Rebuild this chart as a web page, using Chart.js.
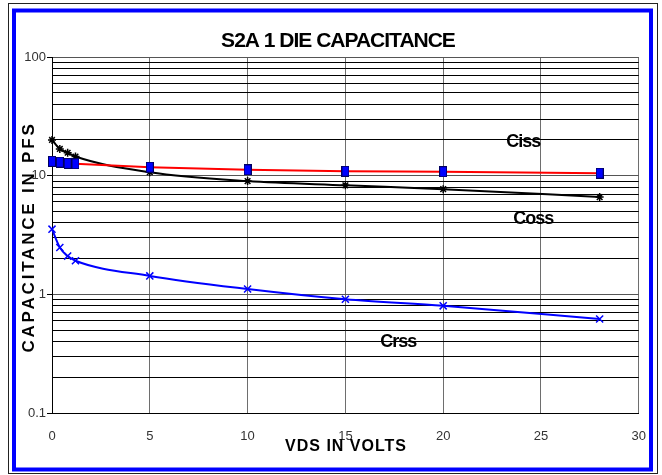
<!DOCTYPE html>
<html>
<head>
    <meta charset="UTF-8">
    <title>S2A 1 DIE CAPACITANCE</title>
    <script src="https://cdn.jsdelivr.net/npm/chart.js"></script>
    <style>
        body { margin: 0; background: #fff; }
        #wrap { width: 662px; height: 475px; }
    </style>
</head>
<body>
    <div id="wrap"><canvas id="myChart" width="662" height="475"></canvas></div>

    <script>
        // drain-source voltage (V)
        const vds = [0, 0.4, 0.8, 1.2, 5, 10, 15, 20, 28];
        // capacitances (pF)
        const ciss = [13.2, 13.0, 12.7, 12.6, 11.8, 11.2, 10.9, 10.8, 10.5];
        const coss = [20.0, 16.8, 15.6, 14.5, 10.7, 9.0, 8.3, 7.7, 6.6];
        const crss = [3.54, 2.48, 2.10, 1.92, 1.43, 1.11, 0.91, 0.80, 0.62];

        const xTicks = [0, 5, 10, 15, 20, 25, 30];
        const yLabels = [0.1, 1, 10, 100];
        const yGrid = [0.1, 0.2, 0.3, 0.4, 0.5, 0.6, 0.7, 0.8, 0.9,
                       1, 2, 3, 4, 5, 6, 7, 8, 9,
                       10, 20, 30, 40, 50, 60, 70, 80, 90, 100];

        // curve names, placed in data coordinates
        const curveNames = ['Ciss', 'Coss', 'Crss'];
        const namePos = [[24.1, 19.3], [24.6, 4.3], [17.7, 0.40]];

        const pts = arr => vds.map((x, i) => ({ x: x, y: arr[i] }));

        // Excel-like tall blue box marker
        const box = document.createElement('canvas');
        box.width = 8; box.height = 11;
        const bc = box.getContext('2d');
        bc.fillStyle = '#0000ff';
        bc.fillRect(0, 0, 8, 11);
        bc.strokeStyle = '#000060';
        bc.lineWidth = 1;
        bc.strokeRect(0.5, 0.5, 7, 10);

        const frame = {
            id: 'frame',
            afterDraw(chart) {
                const c = chart.ctx;
                const sx = chart.scales.x, sy = chart.scales.y;
                c.save();
                // outer thin border and blue frame
                c.strokeStyle = '#222';
                c.lineWidth = 1;
                c.strokeRect(8.5, 3.5, 649, 470);
                c.strokeStyle = '#0000ff';
                c.lineWidth = 4;
                c.strokeRect(14, 10.5, 637, 459);

                c.fillStyle = '#000';
                c.textAlign = 'center';
                c.textBaseline = 'middle';

                c.font = 'bold 21px "Liberation Sans", Arial, sans-serif';
                c.letterSpacing = '-1px';
                c.fillText('S2A 1 DIE CAPACITANCE', 338, 41);

                c.font = 'bold 18px "Liberation Sans", Arial, sans-serif';
                c.letterSpacing = '-1px';
                curveNames.forEach((t, i) => {
                    c.fillText(t, sx.getPixelForValue(namePos[i][0]), sy.getPixelForValue(namePos[i][1]));
                });

                c.font = 'bold 16px "Liberation Sans", Arial, sans-serif';
                c.letterSpacing = '1px';
                c.fillText('VDS IN VOLTS', 346, 447);

                c.translate(29, 237);
                c.rotate(-Math.PI / 2);
                c.font = 'bold 17px "Liberation Sans", Arial, sans-serif';
                c.letterSpacing = '2.8px';
                c.fillText('CAPACITANCE IN PFS', 0, 0);
                c.restore();
            }
        };

        const ctx = document.getElementById('myChart').getContext('2d');
        new Chart(ctx, {
            type: 'line',
            data: {
                datasets: [{
                    label: 'Ciss',
                    data: pts(ciss),
                    borderColor: '#ff0000',
                    borderWidth: 2,
                    pointStyle: box,
                    pointRadius: 6,
                    cubicInterpolationMode: 'monotone',
                    clip: false
                }, {
                    label: 'Coss',
                    data: pts(coss),
                    borderColor: '#000000',
                    borderWidth: 2,
                    pointStyle: 'star',
                    pointRadius: 4,
                    pointBorderColor: '#000000',
                    pointBorderWidth: 1.5,
                    cubicInterpolationMode: 'monotone',
                    clip: false
                }, {
                    label: 'Crss',
                    data: pts(crss),
                    borderColor: '#0000ff',
                    borderWidth: 2,
                    pointStyle: 'crossRot',
                    pointRadius: 5,
                    pointBorderColor: '#0000ff',
                    pointBorderWidth: 1.5,
                    cubicInterpolationMode: 'monotone',
                    clip: false
                }]
            },
            options: {
                responsive: false,
                animation: false,
                events: [],
                layout: { padding: { left: 0, top: 57, right: 22, bottom: 0 } },
                plugins: {
                    legend: { display: false },
                    title: { display: false },
                    tooltip: { enabled: false }
                },
                scales: {
                    x: {
                        type: 'linear',
                        min: 0,
                        max: 30,
                        afterFit: s => { s.height = 62; },
                        afterBuildTicks: s => { s.ticks = xTicks.map(v => ({ value: v })); },
                        grid: { color: '#6e6e6e', lineWidth: 1, drawTicks: false },
                        border: { color: '#000', width: 1 },
                        ticks: {
                            padding: 16,
                            color: '#333',
                            font: { family: '"Liberation Sans", Arial, sans-serif', size: 13 }
                        }
                    },
                    y: {
                        type: 'logarithmic',
                        min: 0.1,
                        max: 100,
                        afterFit: s => { s.width = 52; },
                        afterBuildTicks: s => {
                            s.ticks = yGrid.map(v => ({ value: v, major: yLabels.includes(v) }));
                        },
                        grid: {
                            color: c => (c.tick && c.tick.major) ? '#555' : '#000',
                            lineWidth: 1,
                            tickLength: 5,
                            tickColor: c => (c.tick && c.tick.major) ? '#000' : 'rgba(0,0,0,0)'
                        },
                        border: { color: '#000', width: 1 },
                        ticks: {
                            padding: 1,
                            autoSkip: false,
                            color: '#333',
                            font: { family: '"Liberation Sans", Arial, sans-serif', size: 13 },
                            callback: v => yLabels.includes(v) ? String(v) : ''
                        }
                    }
                }
            },
            plugins: [frame]
        });
    </script>
</body>
</html>
